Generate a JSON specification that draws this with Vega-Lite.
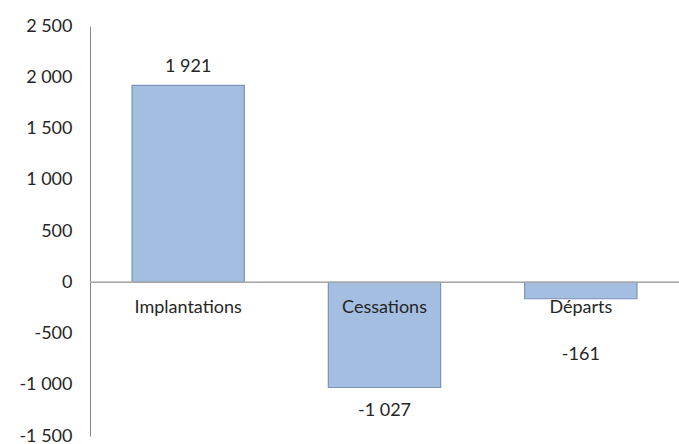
{
  "$schema": "https://vega.github.io/schema/vega-lite/v6.json",
  "width": 589,
  "height": 410,
  "autosize": {"type": "none"},
  "padding": {"left": 90, "top": 26, "right": 0, "bottom": 8},
  "data": {
    "values": [
      {"cat": "Implantations", "value": 1921},
      {"cat": "Cessations", "value": -1027},
      {"cat": "Départs", "value": -161}
    ]
  },
  "encoding": {
    "x": {"field": "cat", "type": "nominal", "sort": null, "axis": null,
          "scale": {"paddingInner": 0.428, "paddingOuter": 0.214}}
  },
  "layer": [
    {
      "mark": {"type": "bar", "fill": "#a4bee2", "stroke": "#7b93b8", "strokeWidth": 1.2},
      "encoding": {
        "y": {"field": "value", "type": "quantitative",
              "scale": {"domain": [-1500, 2500], "nice": false, "zero": false},
              "axis": {"values": [-1500, -1000, -500, 0, 500, 1000, 1500, 2000, 2500],
                       "format": ",d", "title": null, "grid": false, "ticks": false,
                       "domainColor": "#868686", "labelPadding": 18,
                       "labelFont": "Lato", "labelFontSize": 18, "labelColor": "#262626"}}
      }
    },
    {
      "mark": {"type": "rule", "color": "#a6a6a6", "strokeWidth": 1.2},
      "encoding": {"y": {"datum": 0, "type": "quantitative"}, "x": null}
    },
    {
      "mark": {"type": "text", "dy": 26, "font": "Lato", "fontSize": 18, "color": "#262626", "baseline": "middle"},
      "encoding": {"y": {"datum": 0, "type": "quantitative"}, "text": {"field": "cat"}}
    },
    {
      "transform": [{"filter": "datum.value > 0"}],
      "mark": {"type": "text", "dy": -18, "font": "Lato", "fontSize": 18, "color": "#262626", "baseline": "middle"},
      "encoding": {"y": {"field": "value", "type": "quantitative"}, "text": {"field": "value", "format": ",d"}}
    },
    {
      "transform": [{"filter": "datum.cat == 'Cessations'"}],
      "mark": {"type": "text", "dy": 23, "font": "Lato", "fontSize": 18, "color": "#262626", "baseline": "middle"},
      "encoding": {"y": {"field": "value", "type": "quantitative"}, "text": {"field": "value", "format": ",d"}}
    },
    {
      "transform": [{"filter": "datum.cat == 'Départs'"}],
      "mark": {"type": "text", "dy": 56, "font": "Lato", "fontSize": 18, "color": "#262626", "baseline": "middle"},
      "encoding": {"y": {"field": "value", "type": "quantitative"}, "text": {"field": "value", "format": ",d"}}
    }
  ],
  "config": {
    "view": {"stroke": null},
    "locale": {"number": {"decimal": ",", "thousands": " ", "grouping": [3], "currency": ["", " €"], "minus": "-"}}
  }
}
